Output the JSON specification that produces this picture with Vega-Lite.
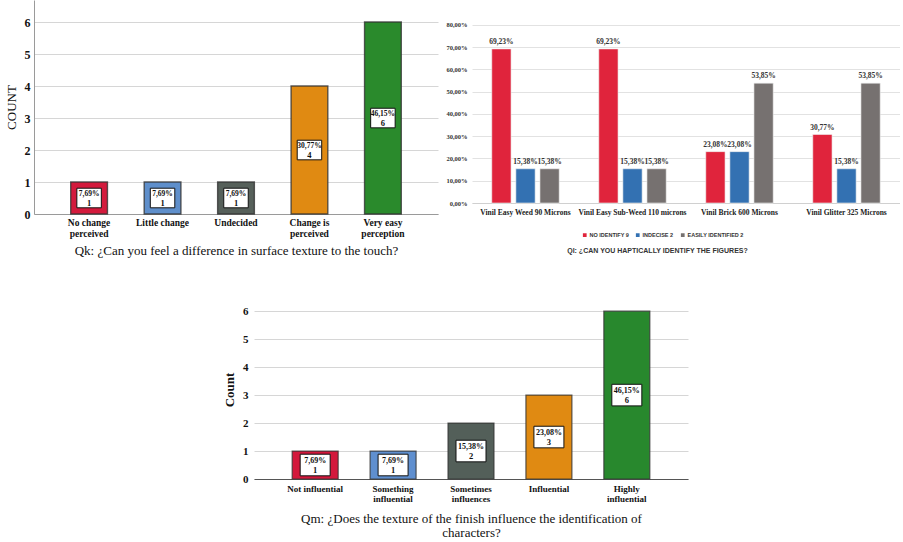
{
  "$schema": "https://vega.github.io/schema/vega-lite/v6.json",
  "padding": {"left": 5, "top": 0, "right": 0, "bottom": 0},
  "background": "white",
  "config": {
    "view": {"stroke": null},
    "font": "Liberation Serif",
    "locale": {"number": {"decimal": ",", "thousands": ".", "grouping": [3], "currency": ["", " €"]}}
  },
  "spacing": 42,
  "resolve": {"scale": {"color": "independent"}, "legend": {"color": "independent"}},
  "vconcat": [
    {
      "spacing": 7,
      "resolve": {"scale": {"color": "independent"}, "legend": {"color": "independent"}},
      "hconcat": [
        {
          "width": 404,
          "height": 214,
          "data": {"values": [
            {"cat": "No change perceived", "count": 1, "pct": 0.0769},
            {"cat": "Little change", "count": 1, "pct": 0.0769},
            {"cat": "Undecided", "count": 1, "pct": 0.0769},
            {"cat": "Change is perceived", "count": 4, "pct": 0.3077},
            {"cat": "Very easy perception", "count": 6, "pct": 0.4615}
          ]},
          "transform": [{"calculate": "datum.count/2", "as": "mid"}],
          "encoding": {
            "x": {"field": "cat", "type": "nominal", "sort": null,
              "scale": {"paddingInner": 0.5, "paddingOuter": 0.5},
              "axis": {"title": "Qk: ¿Can you feel a difference in surface texture to the touch?",
                "labelAngle": 0, "ticks": false, "domainColor": "#9a9a9a",
                "labelExpr": "datum.value == 'No change perceived' ? ['No change','perceived'] : datum.value == 'Change is perceived' ? ['Change is','perceived'] : datum.value == 'Very easy perception' ? ['Very easy','perception'] : datum.value",
                "labelFont": "Liberation Serif", "labelFontWeight": "bold", "labelFontSize": 9.5, "labelLineHeight": 11, "labelColor": "#111", "labelPadding": 3,
                "titleFont": "Liberation Serif", "titleFontSize": 13, "titleFontWeight": "normal", "titleColor": "#111", "titlePadding": 7}
            },
            "y": {"field": "count", "type": "quantitative", "scale": {"domain": [0, 6.69], "nice": false},
              "axis": {"title": "COUNT", "values": [0, 1, 2, 3, 4, 5, 6], "tickCount": 7, "grid": true, "gridColor": "#d6d6d6",
                "domain": true, "domainColor": "#9a9a9a", "ticks": false, "labelOverlap": false,
                "labelFontWeight": "bold", "labelFontSize": 12, "labelColor": "#111", "labelPadding": 4,
                "titleFontSize": 13, "titleFontWeight": "normal", "titleColor": "#111", "titlePadding": 6}}
          },
          "layer": [
            {
              "mark": {"type": "bar", "stroke": "#333333", "strokeWidth": 1.4, "strokeOpacity": 0.8},
              "encoding": {
                "color": {"field": "cat", "type": "nominal", "legend": null,
                  "scale": {"domain": ["No change perceived", "Little change", "Undecided", "Change is perceived", "Very easy perception"],
                    "range": ["#d31a3c", "#5f8fcb", "#56605a", "#e08a12", "#2a8a2c"]}}
              }
            },
            {
              "mark": {"type": "point", "shape": "M-1,-0.8H1V0.8H-1Z", "filled": true, "fill": "white", "stroke": "#111", "strokeWidth": 1, "opacity": 1, "size": 600},
              "encoding": {"y": {"field": "mid", "type": "quantitative"}}
            },
            {
              "mark": {"type": "text", "dy": -4, "fontSize": 7.5, "fontWeight": "bold", "color": "#111"},
              "encoding": {"y": {"field": "mid", "type": "quantitative"}, "text": {"field": "pct", "type": "quantitative", "format": ".2%"}}
            },
            {
              "mark": {"type": "text", "dy": 5, "fontSize": 8.5, "fontWeight": "bold", "color": "#111"},
              "encoding": {"y": {"field": "mid", "type": "quantitative"}, "text": {"field": "count", "type": "quantitative"}}
            }
          ]
        },
        {
          "width": 428,
          "height": 203,
          "data": {"values": [
            {"vinyl": "Vinil Easy Weed 90 Microns", "resp": "NO IDENTIFY 9", "pct": 0.6923},
            {"vinyl": "Vinil Easy Weed 90 Microns", "resp": "INDECISE 2", "pct": 0.1538},
            {"vinyl": "Vinil Easy Weed 90 Microns", "resp": "EASILY IDENTIFIED 2", "pct": 0.1538},
            {"vinyl": "Vinil Easy Sub-Weed 110 microns", "resp": "NO IDENTIFY 9", "pct": 0.6923},
            {"vinyl": "Vinil Easy Sub-Weed 110 microns", "resp": "INDECISE 2", "pct": 0.1538},
            {"vinyl": "Vinil Easy Sub-Weed 110 microns", "resp": "EASILY IDENTIFIED 2", "pct": 0.1538},
            {"vinyl": "Vinil Brick 600 Microns", "resp": "NO IDENTIFY 9", "pct": 0.2308},
            {"vinyl": "Vinil Brick 600 Microns", "resp": "INDECISE 2", "pct": 0.2308},
            {"vinyl": "Vinil Brick 600 Microns", "resp": "EASILY IDENTIFIED 2", "pct": 0.5385},
            {"vinyl": "Vinil Glitter 325 Microns", "resp": "NO IDENTIFY 9", "pct": 0.3077},
            {"vinyl": "Vinil Glitter 325 Microns", "resp": "INDECISE 2", "pct": 0.1538},
            {"vinyl": "Vinil Glitter 325 Microns", "resp": "EASILY IDENTIFIED 2", "pct": 0.5385}
          ]},
          "encoding": {
            "x": {"field": "vinyl", "type": "nominal", "sort": null,
              "scale": {"paddingInner": 0.37, "paddingOuter": 0.185},
              "axis": {"title": "Ql: ¿CAN YOU HAPTICALLY IDENTIFY THE FIGURES?", "titleX": 185, "titleAnchor": "middle",
                "labelAngle": 0, "ticks": false, "domainColor": "#d0d0d0",
                "labelFont": "Liberation Serif", "labelFontWeight": "bold", "labelFontSize": 7.5, "labelColor": "#222", "labelPadding": 5,
                "titleFont": "Liberation Sans", "titleFontSize": 7, "titleFontWeight": "bold", "titleColor": "#333", "titlePadding": 31}},
            "xOffset": {"field": "resp", "type": "nominal", "sort": null, "scale": {"paddingInner": 0.2, "paddingOuter": 0}},
            "y": {"field": "pct", "type": "quantitative", "scale": {"domain": [0, 0.912], "nice": false},
              "axis": {"title": null, "values": [0, 0.1, 0.2, 0.3, 0.4, 0.5, 0.6, 0.7, 0.8], "format": ".2%",
                "grid": true, "gridColor": "#e2e2e2", "domain": false, "ticks": false, "labelOverlap": false,
                "labelFont": "Liberation Serif", "labelFontWeight": "bold", "labelFontSize": 6.5, "labelColor": "#333", "labelPadding": 5}}
          },
          "layer": [
            {
              "mark": {"type": "bar", "stroke": "#f0f0f0", "strokeWidth": 0.6},
              "encoding": {
                "color": {"field": "resp", "type": "nominal",
                  "scale": {"domain": ["NO IDENTIFY 9", "INDECISE 2", "EASILY IDENTIFIED 2"], "range": ["#e0243c", "#3371b2", "#767170"]},
                  "legend": {"title": null, "orient": "none", "direction": "horizontal", "legendX": 110, "legendY": 232,
                    "symbolType": "square", "symbolSize": 14, "symbolStrokeWidth": 0,
                    "labelFont": "Liberation Sans", "labelFontSize": 5.5, "labelFontWeight": "bold", "labelColor": "#333",
                    "labelOffset": 2, "columnPadding": 6}}
              }
            },
            {
              "mark": {"type": "text", "dy": -3, "baseline": "bottom", "fontSize": 7.5, "fontWeight": "bold", "color": "#333"},
              "encoding": {"text": {"field": "pct", "type": "quantitative", "format": ".2%"}}
            }
          ]
        }
      ]
    },
    {
      "spacing": 8,
      "hconcat": [
        {
          "width": 181,
          "height": 10,
          "data": {"values": [{"a": 1}]},
          "mark": {"type": "point", "opacity": 0},
          "encoding": {}
        },
        {
          "width": 434,
          "height": 179,
          "data": {"values": [
            {"cat": "Not influential", "count": 1, "pct": 0.0769},
            {"cat": "Something influential", "count": 1, "pct": 0.0769},
            {"cat": "Sometimes influences", "count": 2, "pct": 0.1538},
            {"cat": "Influential", "count": 3, "pct": 0.2308},
            {"cat": "Highly influential", "count": 6, "pct": 0.4615}
          ]},
          "transform": [{"calculate": "datum.count/2", "as": "mid"}],
          "encoding": {
            "x": {"field": "cat", "type": "nominal", "sort": null,
              "scale": {"paddingInner": 0.41, "paddingOuter": 0.49},
              "axis": {"title": ["Qm: ¿Does the texture of the finish influence the identification of", "characters?"],
                "labelAngle": 0, "ticks": false, "domainColor": "#555",
                "labelExpr": "datum.value == 'Something influential' ? ['Something','influential'] : datum.value == 'Sometimes influences' ? ['Sometimes','influences'] : datum.value == 'Highly influential' ? ['Highly','influential'] : datum.value",
                "labelFont": "Liberation Serif", "labelFontWeight": "bold", "labelFontSize": 9, "labelLineHeight": 10.5, "labelColor": "#111", "labelPadding": 5,
                "titleFont": "Liberation Serif", "titleFontSize": 13, "titleFontWeight": "normal", "titleColor": "#111", "titlePadding": 9, "titleLineHeight": 14}
            },
            "y": {"field": "count", "type": "quantitative", "scale": {"domain": [0, 6.4], "nice": false},
              "axis": {"title": "Count", "values": [0, 1, 2, 3, 4, 5, 6], "tickCount": 7, "grid": true, "gridColor": "#d6d6d6",
                "domain": false, "ticks": false, "labelOverlap": false,
                "labelFontWeight": "bold", "labelFontSize": 11, "labelColor": "#111", "labelPadding": 6,
                "titleFontSize": 13, "titleFontWeight": "bold", "titleColor": "#111", "titlePadding": 6}}
          },
          "layer": [
            {
              "mark": {"type": "bar", "stroke": "#333333", "strokeWidth": 1.2, "strokeOpacity": 0.8},
              "encoding": {
                "color": {"field": "cat", "type": "nominal", "legend": null,
                  "scale": {"domain": ["Not influential", "Something influential", "Sometimes influences", "Influential", "Highly influential"],
                    "range": ["#d3183c", "#5f8fcf", "#535f59", "#e08a12", "#28882d"]}}
              }
            },
            {
              "mark": {"type": "point", "shape": "M-1,-0.72H1V0.72H-1Z", "filled": true, "fill": "white", "stroke": "#111", "strokeWidth": 1, "opacity": 1, "size": 900},
              "encoding": {"y": {"field": "mid", "type": "quantitative"}}
            },
            {
              "mark": {"type": "text", "dy": -4, "fontSize": 8, "fontWeight": "bold", "color": "#111"},
              "encoding": {"y": {"field": "mid", "type": "quantitative"}, "text": {"field": "pct", "type": "quantitative", "format": ".2%"}}
            },
            {
              "mark": {"type": "text", "dy": 5, "fontSize": 8.5, "fontWeight": "bold", "color": "#111"},
              "encoding": {"y": {"field": "mid", "type": "quantitative"}, "text": {"field": "count", "type": "quantitative"}}
            }
          ]
        }
      ]
    }
  ]
}
